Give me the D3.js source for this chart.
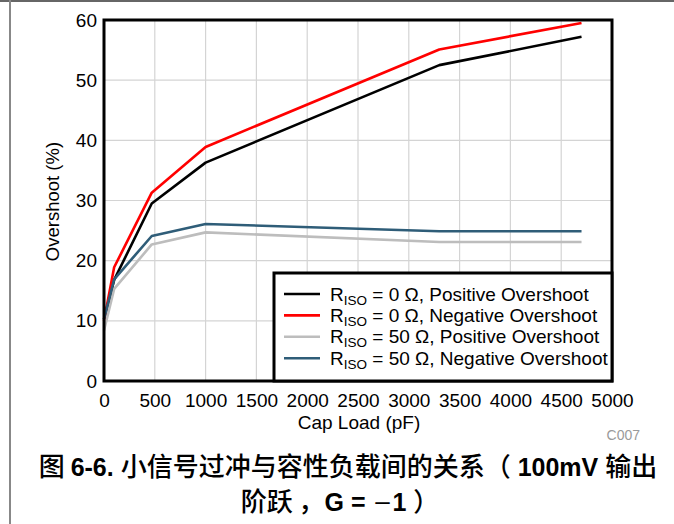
<!DOCTYPE html>
<html>
<head>
<meta charset="utf-8">
<script src="https://cdn.jsdelivr.net/npm/d3@7"></script>
<style>
  body { margin: 0; background: #fff; }
  svg { display: block; font-family: "Liberation Sans", Arial, sans-serif; }
  .grid line { stroke: #d4d4d4; stroke-width: 1.2; }
  .axis text { font-size: 19px; fill: #000; font-family: "Liberation Sans", Arial, sans-serif; }
  .axis path, .axis line { display: none; }
  .cjk { font-family: "Noto Sans CJK SC", sans-serif; font-weight: 500; }
  .lat { font-family: "Liberation Sans", Arial, sans-serif; font-weight: bold; }
</style>
</head>
<body>
<svg id="chart" width="674" height="524"></svg>
<script>
const capLoad = [0, 100, 470, 1000, 3300, 4700];
const pos0 = [10.3, 16.8, 29.5, 36.3, 52.5, 57.2];
const neg0 = [10.0, 18.9, 31.3, 38.9, 55.1, 59.5];
const pos50 = [8.4, 15.3, 22.7, 24.7, 23.1, 23.1];
const neg50 = [10.3, 16.9, 24.1, 26.1, 24.9, 24.9];
const seriesNames = ['0 Ω, Positive Overshoot', '0 Ω, Negative Overshoot', '50 Ω, Positive Overshoot', '50 Ω, Negative Overshoot'];
const seriesColors = ['#000000', '#ff0000', '#bdbdbd', '#2f5d78'];
const xTicks = [0, 500, 1000, 1500, 2000, 2500, 3000, 3500, 4000, 4500, 5000];
const yTicks = [0, 10, 20, 30, 40, 50, 60];

const series = [pos0, neg0, pos50, neg50].map((vals, i) => ({
  name: seriesNames[i],
  color: seriesColors[i],
  values: capLoad.map((c, j) => ({ x: c, y: vals[j] }))
}));

const svg = d3.select('#chart');
const margin = { left: 104, right: 62, top: 20, bottom: 143 };
const width = 674 - margin.left - margin.right;
const height = 524 - margin.top - margin.bottom;

// page frame
svg.append('line').attr('x1', 0).attr('x2', 674).attr('y1', 1).attr('y2', 1)
  .attr('stroke', '#333').attr('stroke-width', 1.5);
svg.append('line').attr('x1', 10).attr('x2', 10).attr('y1', 0).attr('y2', 524)
  .attr('stroke', '#888').attr('stroke-width', 2);

const x = d3.scaleLinear().domain([0, 5000]).range([0, width]);
const y = d3.scaleLinear().domain([0, 60]).range([height, 0]);

const g = svg.append('g').attr('transform', `translate(${margin.left},${margin.top})`);

const grid = g.append('g').attr('class', 'grid');
grid.selectAll('.gx').data(xTicks).join('line')
  .attr('x1', d => x(d)).attr('x2', d => x(d)).attr('y1', 0).attr('y2', height);
grid.selectAll('.gy').data(yTicks).join('line')
  .attr('x1', 0).attr('x2', width).attr('y1', d => y(d)).attr('y2', d => y(d));

const line = d3.line().x(d => x(d.x)).y(d => y(d.y));

g.selectAll('.series').data(series).join('path')
  .attr('class', 'series')
  .attr('fill', 'none')
  .attr('stroke', d => d.color)
  .attr('stroke-width', 2.6)
  .attr('stroke-linejoin', 'round')
  .attr('d', d => line(d.values));

// axes labels
g.append('g').attr('class', 'axis')
  .attr('transform', `translate(0,${height})`)
  .call(d3.axisBottom(x).tickValues(xTicks).tickSize(0).tickPadding(13).tickFormat(d3.format('d')));
g.append('g').attr('class', 'axis')
  .call(d3.axisLeft(y).tickValues(yTicks).tickSize(0).tickPadding(7));

// plot frame
g.append('rect').attr('x', 0).attr('y', 0).attr('width', width).attr('height', height)
  .attr('fill', 'none').attr('stroke', '#000').attr('stroke-width', 3);

// legend
const lgX = 170, lgY = 253;
const lg = g.append('g').attr('transform', `translate(${lgX},${lgY})`);
lg.append('rect').attr('width', width - lgX).attr('height', height - lgY)
  .attr('fill', '#fff').attr('stroke', '#000').attr('stroke-width', 3);
const items = lg.selectAll('.item').data(series).join('g')
  .attr('transform', (d, i) => `translate(10,${21 + i * 21.4})`);
items.append('line').attr('x1', 0).attr('x2', 36)
  .attr('stroke', d => d.color).attr('stroke-width', 2.6);
const txt = items.append('text').attr('x', 46).attr('y', 6.5).attr('font-size', 19);
txt.append('tspan').text('R');
txt.append('tspan').attr('font-size', 13.5).attr('dy', 4).text('ISO');
txt.append('tspan').attr('dy', -4).text(d => ' = ' + d.name);

// axis titles
svg.append('text').attr('x', margin.left + width / 2 + 1).attr('y', 429)
  .attr('text-anchor', 'middle').attr('font-size', 19).text('Cap Load (pF)');
svg.append('text').attr('transform', `translate(59,${margin.top + height / 2 + 1}) rotate(-90)`)
  .attr('text-anchor', 'middle').attr('font-size', 18.5).text('Overshoot (%)');
svg.append('text').attr('x', 640).attr('y', 440).attr('text-anchor', 'end')
  .attr('font-size', 14).attr('fill', '#9a9a9a').text('C007');

// caption
const cap1 = svg.append('text').attr('text-anchor', 'middle').attr('x', 348).attr('y', 476).attr('font-size', 26);
cap1.append('tspan').attr('class', 'cjk').text('图 ');
cap1.append('tspan').attr('class', 'lat').attr('font-size', 25).text('6-6. ');
cap1.append('tspan').attr('class', 'cjk').text('小信号过冲与容性负载间的关系（');
cap1.append('tspan').attr('class', 'lat').attr('font-size', 25).text(' 100mV ');
cap1.append('tspan').attr('class', 'cjk').text('输出');

const cap2 = svg.append('text').attr('text-anchor', 'middle').attr('x', 340).attr('y', 511).attr('font-size', 26);
cap2.append('tspan').attr('class', 'cjk').text('阶跃 ，');
cap2.append('tspan').attr('class', 'lat').attr('font-size', 25).text('G =  ');
cap2.append('tspan').attr('class', 'cjk').attr('font-size', 20).text('－');
cap2.append('tspan').attr('class', 'lat').attr('font-size', 25).text('1  ');
cap2.append('tspan').attr('class', 'cjk').text('）');
</script>
</body>
</html>
